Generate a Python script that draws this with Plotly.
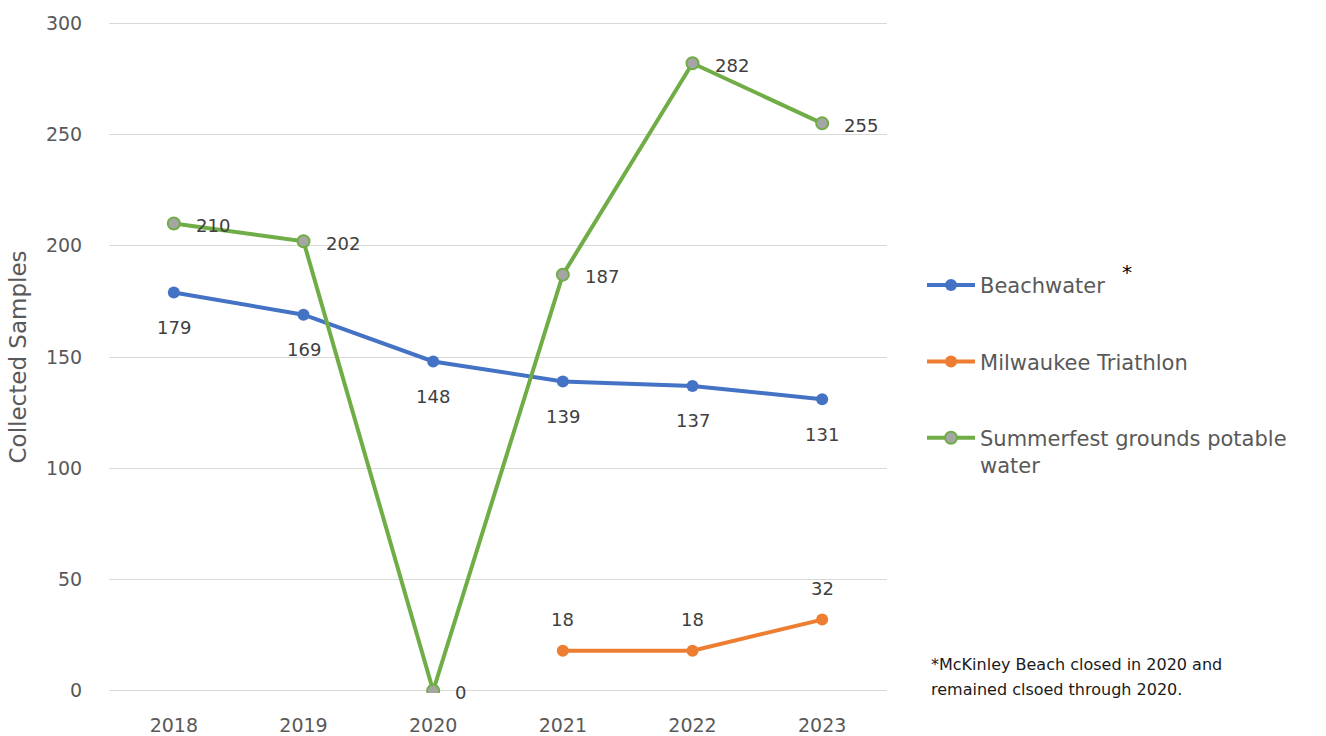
import plotly.graph_objects as go

years = ["2018", "2019", "2020", "2021", "2022", "2023"]
beachwater = [179, 169, 148, 139, 137, 131]
triathlon = [None, None, None, 18, 18, 32]
summerfest = [210, 202, 0, 187, 282, 255]

BLUE = "#4472C4"
ORANGE = "#ED7D31"
GREEN = "#70AD47"
GREY_FILL = "#A5A5A5"
FONT = "DejaVu Sans"

fig = go.Figure()

fig.add_trace(go.Scatter(
    x=years, y=beachwater, name="Beachwater", mode="lines+markers",
    line=dict(color=BLUE, width=4), marker=dict(size=12, color=BLUE),
    legendgroup="a",
))
fig.add_trace(go.Scatter(
    x=years, y=triathlon, name="Milwaukee Triathlon", mode="lines+markers",
    line=dict(color=ORANGE, width=4), marker=dict(size=12, color=ORANGE),
    legendgroup="b",
))
fig.add_trace(go.Scatter(
    x=years, y=summerfest, name="Summerfest grounds potable<br>water",
    mode="lines+markers",
    line=dict(color=GREEN, width=4),
    marker=dict(size=12, color=GREY_FILL, line=dict(color=GREEN, width=2)),
    legendgroup="c",
))

# value labels, positioned by category index on the category axis
label_font = dict(family=FONT, size=18, color="#404040")
annotations = []
for i, v in enumerate(beachwater):
    annotations.append(dict(x=i, y=v, xref="x", yref="y", text=str(v),
                            showarrow=False, yshift=-35, font=label_font))
for i, v in enumerate(triathlon):
    if v is not None:
        annotations.append(dict(x=i, y=v, xref="x", yref="y", text=str(v),
                                showarrow=False, yshift=31, font=label_font))
for i, v in enumerate(summerfest):
    annotations.append(dict(x=i, y=v, xref="x", yref="y", text=str(v),
                            showarrow=False, xanchor="left", xshift=20,
                            yshift=-2, font=label_font))

# footnote and asterisk beside the legend
note_font = dict(family=FONT, size=16, color="#1a1a1a")
annotations.append(dict(
    xref="paper", yref="paper", x=1.054, y=0.0417, xanchor="left", yanchor="middle",
    text="*McKinley Beach closed in 2020 and", showarrow=False, font=note_font,
))
annotations.append(dict(
    xref="paper", yref="paper", x=1.054, y=0.0045, xanchor="left", yanchor="middle",
    text="remained clsoed through 2020.", showarrow=False, font=note_font,
))
annotations.append(dict(
    xref="paper", yref="paper", x=1.299, y=0.626, xanchor="left", yanchor="middle",
    text="*", showarrow=False, font=dict(family=FONT, size=20, color="#000000"),
))

fig.update_layout(
    width=1326, height=736,
    margin=dict(l=109, r=439, t=21, b=43),
    paper_bgcolor="white", plot_bgcolor="white",
    font=dict(family=FONT, size=18, color="#595959"),
    xaxis=dict(
        type="category", range=[-0.5, 5.5], showgrid=False, showline=False,
        ticks="outside", ticklen=15, tickcolor="rgba(0,0,0,0)",
        tickfont=dict(size=19, color="#595959"), zeroline=False,
        automargin=False,
    ),
    yaxis=dict(
        range=[-1, 301], tickvals=[0, 50, 100, 150, 200, 250, 300],
        showgrid=True, gridcolor="#D9D9D9", gridwidth=1,
        zeroline=False, showline=False, ticks="outside", ticklen=22,
        tickcolor="rgba(0,0,0,0)",
        tickfont=dict(size=19, color="#595959"),
        title=dict(text="Collected Samples", font=dict(size=23, color="#595959"),
                   standoff=12),
        automargin=False,
    ),
    legend=dict(
        x=1.045, y=0.637, xanchor="left", yanchor="top",
        font=dict(family=FONT, size=21, color="#595959"),
        tracegroupgap=46, valign="top", bgcolor="rgba(0,0,0,0)",
        itemwidth=48,
    ),
    annotations=annotations,
)

fig.write_html("out.html")
